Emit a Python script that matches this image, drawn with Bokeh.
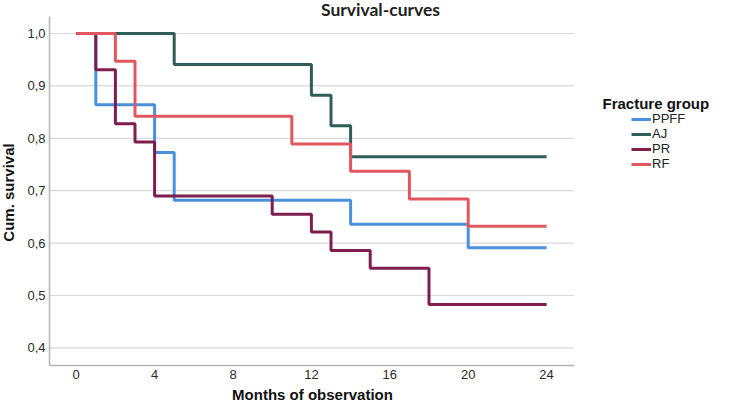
from bokeh.plotting import figure
from bokeh.models import (Range1d, FixedTicker, CustomJSTickFormatter, Label,
                          Legend, LegendItem)
from bokeh.embed import file_html
from bokeh.resources import INLINE

# ---- data (Kaplan-Meier step values) ----
ppff_t = [0, 1, 4, 5, 14, 20, 24]
ppff_s = [1.0, 0.864, 0.773, 0.682, 0.636, 0.591, 0.591]

aj_t = [0, 5, 12, 13, 14, 24]
aj_s = [1.0, 0.941, 0.882, 0.824, 0.765, 0.765]

pr_t = [0, 1, 2, 3, 4, 10, 12, 13, 15, 18, 24]
pr_s = [1.0, 0.931, 0.828, 0.793, 0.690, 0.655, 0.621, 0.586, 0.552, 0.483, 0.483]

rf_t = [0, 2, 3, 11, 14, 17, 20, 24]
rf_s = [1.0, 0.947, 0.842, 0.789, 0.737, 0.684, 0.632, 0.632]

group_names = ["PPFF", "AJ", "PR", "RF"]
group_colors = ["#4a90dc", "#2f5d57", "#7d1e4f", "#e0575f"]

x_ticks = [0, 4, 8, 12, 16, 20, 24]
y_ticks = [0.4, 0.5, 0.6, 0.7, 0.8, 0.9, 1.0]

# visible axis extents (data units)
x_lo, x_hi = -1.36, 25.4
y_lo, y_hi = 0.3664, 1.0318

FONT = "Liberation Sans"
W, H = 713, 404

p = figure(width=W, height=H, output_backend="svg", toolbar_location=None,
           x_range=Range1d(-3.862, 32.515), y_range=Range1d(0.29198, 1.06298),
           min_border_left=0, min_border_right=0,
           min_border_top=0, min_border_bottom=0)
p.outline_line_color = None
p.background_fill_color = "white"

# grid: horizontal lines only across the plotting area
p.xgrid.grid_line_color = None
p.ygrid.grid_line_color = None
p.segment(x0=[x_lo] * len(y_ticks), x1=[x_hi] * len(y_ticks), y0=y_ticks, y1=y_ticks,
          line_color="#d9d9d9", line_width=1.2)

# axes drawn at fixed positions
p.xaxis.fixed_location = y_lo
p.yaxis.fixed_location = x_lo
p.xaxis.bounds = (x_lo, x_hi)
p.yaxis.bounds = (y_lo, y_hi)
for ax in (p.xaxis[0], p.yaxis[0]):
    ax.axis_line_color = "#b5b5b5"
    ax.axis_line_width = 1.5
    ax.major_tick_line_color = None
    ax.minor_tick_line_color = None
    ax.major_tick_out = 0
    ax.major_tick_in = 0
    ax.major_label_text_font = FONT
    ax.major_label_text_font_size = "13px"
    ax.major_label_text_color = "#2a2a2a"
    ax.major_label_standoff = 4

p.xaxis.ticker = FixedTicker(ticks=x_ticks)
p.yaxis.ticker = FixedTicker(ticks=y_ticks)
p.yaxis.formatter = CustomJSTickFormatter(code="return tick.toFixed(1).replace('.', ',');")

series = [(ppff_t, ppff_s), (aj_t, aj_s), (pr_t, pr_s), (rf_t, rf_s)]
items = []
for (t, s), name, col in zip(series, group_names, group_colors):
    r = p.step(t, s, mode="after", line_color=col, line_width=3)
    items.append(LegendItem(label=name, renderers=[r]))

legend = Legend(items=items, location=(631, 233), orientation="vertical",
                border_line_color=None, background_fill_alpha=0,
                padding=0, margin=0, spacing=0,
                label_height=14, glyph_height=14, glyph_width=20,
                label_standoff=1,
                label_text_font=FONT, label_text_font_size="13px",
                label_text_color="#222222")
p.add_layout(legend)

# texts
p.add_layout(Label(x=380, y=H - 9, x_units="screen", y_units="screen",
                   text="Survival-curves", text_font="Lato", text_font_style="bold",
                   text_font_size="17.5px", text_color="#222222",
                   text_align="center", text_baseline="middle"))
p.add_layout(Label(x=312, y=H - 394, x_units="screen", y_units="screen",
                   text="Months of observation", text_font=FONT, text_font_style="bold",
                   text_font_size="15px", text_color="#111111",
                   text_align="center", text_baseline="middle"))
p.add_layout(Label(x=8, y=H - 192, x_units="screen", y_units="screen",
                   text="Cum. survival", text_font=FONT, text_font_style="bold",
                   text_font_size="15px", text_color="#111111", angle=90, angle_units="deg",
                   text_align="center", text_baseline="middle"))
p.add_layout(Label(x=602, y=H - 103, x_units="screen", y_units="screen",
                   text="Fracture group", text_font=FONT, text_font_style="bold",
                   text_font_size="15px", text_color="#111111",
                   text_align="left", text_baseline="middle"))

open("out.html", "w").write(file_html(p, INLINE))
